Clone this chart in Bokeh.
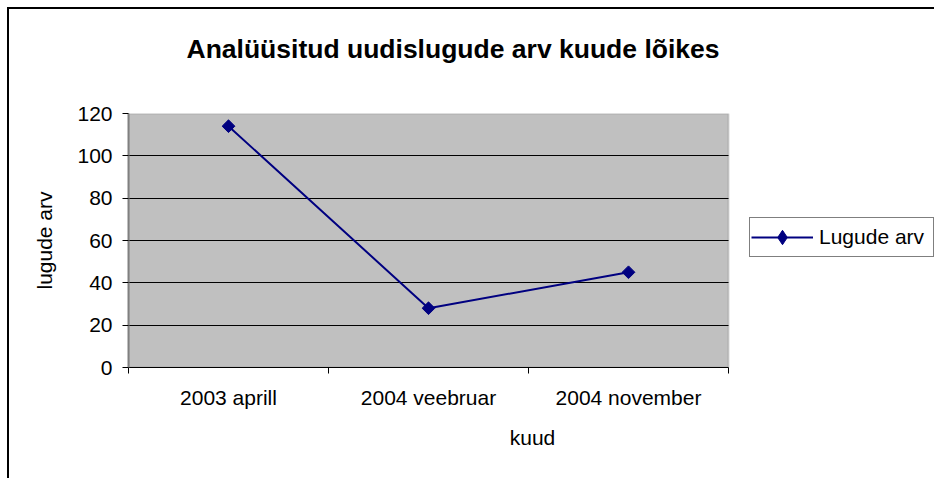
import math
from bokeh.plotting import figure
from bokeh.models import (Range1d, FixedTicker, Legend, LegendItem, Title, BoxAnnotation)
from bokeh.embed import file_html
from bokeh.resources import INLINE

# ---- data ----
categories = ["2003 aprill", "2004 veebruar", "2004 november"]
lugude_arv = [114, 28, 45]
y_ticks = [0, 20, 40, 60, 80, 100, 120]

title_text = "Analüüsitud uudislugude arv kuude lõikes"
x_label = "kuud"
y_label = "lugude arv"
series_name = "Lugude arv"

FONT = "Liberation Sans"
NAVY = "#000080"
GRAY = "#C0C0C0"

n = len(categories)
xs = [i + 0.5 for i in range(n)]
edges = list(range(n + 1))

# plot area is 600 px wide for the categories; frame extends to the right edge
FIG_W, FIG_H = 927, 471
LEFT, TOP, BOTTOM = 119, 104, 113
frame_w = FIG_W - LEFT
x_end = n * frame_w / 600.0

p = figure(width=FIG_W, height=FIG_H, output_backend="svg", toolbar_location=None,
           x_range=Range1d(0, x_end), y_range=Range1d(y_ticks[0], y_ticks[-1]),
           min_border_left=LEFT, min_border_right=0, min_border_top=TOP,
           min_border_bottom=BOTTOM, title=None)

p.background_fill_color = "white"
p.border_fill_color = "white"
p.outline_line_color = None
p.styles = {"margin-left": "9px", "margin-top": "9px",
            "box-shadow": "-2px -2px 0 0 #000000"}

# gray plot area
area = BoxAnnotation(left=0, right=n, bottom=y_ticks[0], top=y_ticks[-1],
                     fill_color=GRAY, fill_alpha=1, line_color="#808080",
                     line_width=2, level="image")
p.add_layout(area)

# title (an empty second line lifts the title higher above the plot area)
t = Title(text=title_text + "\n ", align="left",
          text_font=FONT, text_font_size="26.5px",
          text_font_style="bold", text_color="black", standoff=40, offset=58)
p.add_layout(t, "above")

# grid
p.xgrid.visible = False
p.ygrid.ticker = FixedTicker(ticks=y_ticks[1:-1])
p.ygrid.grid_line_color = "black"
p.ygrid.grid_line_width = 1
p.ygrid.cross_bounds = (0, n)

# y axis
p.yaxis.ticker = FixedTicker(ticks=y_ticks)
p.yaxis.axis_line_color = "#808080"
p.yaxis.axis_line_width = 2
p.yaxis.major_tick_line_color = "black"
p.yaxis.major_tick_out = 6
p.yaxis.major_tick_in = 0
p.yaxis.minor_tick_line_color = None
p.yaxis.major_label_standoff = 10
p.yaxis.major_label_text_font = FONT
p.yaxis.major_label_text_font_size = "21px"
p.yaxis.major_label_text_color = "black"
p.yaxis.axis_label = y_label
p.yaxis.axis_label_text_font = FONT
p.yaxis.axis_label_text_font_size = "21px"
p.yaxis.axis_label_text_font_style = "normal"
p.yaxis.axis_label_text_color = "black"
p.yaxis.axis_label_standoff = 18

# x axis
p.xaxis.ticker = FixedTicker(ticks=xs, minor_ticks=edges)
p.xaxis.bounds = (0, n)
p.xaxis.major_label_overrides = {x: c for x, c in zip(xs, categories)}
p.xaxis.axis_line_color = "black"
p.xaxis.axis_line_width = 1
p.xaxis.major_tick_line_color = None
p.xaxis.major_tick_out = 6
p.xaxis.major_tick_in = 0
p.xaxis.minor_tick_line_color = "black"
p.xaxis.minor_tick_out = 6
p.xaxis.minor_tick_in = 0
p.xaxis.major_label_standoff = 12
p.xaxis.major_label_text_font = FONT
p.xaxis.major_label_text_font_size = "21px"
p.xaxis.major_label_text_color = "black"
p.xaxis.axis_label = x_label
p.xaxis.axis_label_text_font = FONT
p.xaxis.axis_label_text_font_size = "21px"
p.xaxis.axis_label_text_font_style = "normal"
p.xaxis.axis_label_text_color = "black"
p.xaxis.axis_label_standoff = 14

# series
ln = p.line(xs, lugude_arv, line_color=NAVY, line_width=2)
sc = p.scatter(xs, lugude_arv, marker="square", size=9, angle=math.pi / 4,
               fill_color=NAVY, line_color=NAVY)
# diamond used for the legend swatch (legend swatches are drawn unrotated)
sw = p.scatter(xs, lugude_arv, marker="diamond", size=13,
               fill_color=NAVY, line_color=NAVY, visible=False)

legend = Legend(items=[LegendItem(label=series_name, renderers=[ln, sw])],
                location=(621, 110), orientation="vertical",
                border_line_color="black", border_line_width=1,
                background_fill_color="white", background_fill_alpha=1,
                inactive_fill_alpha=0,
                padding=1, margin=0, spacing=0,
                glyph_width=62, glyph_height=36, label_standoff=6,
                label_width=113,
                label_text_font=FONT, label_text_font_size="21px",
                label_text_color="black")
p.add_layout(legend, "center")

open("out.html", "w").write(file_html(p, INLINE))
